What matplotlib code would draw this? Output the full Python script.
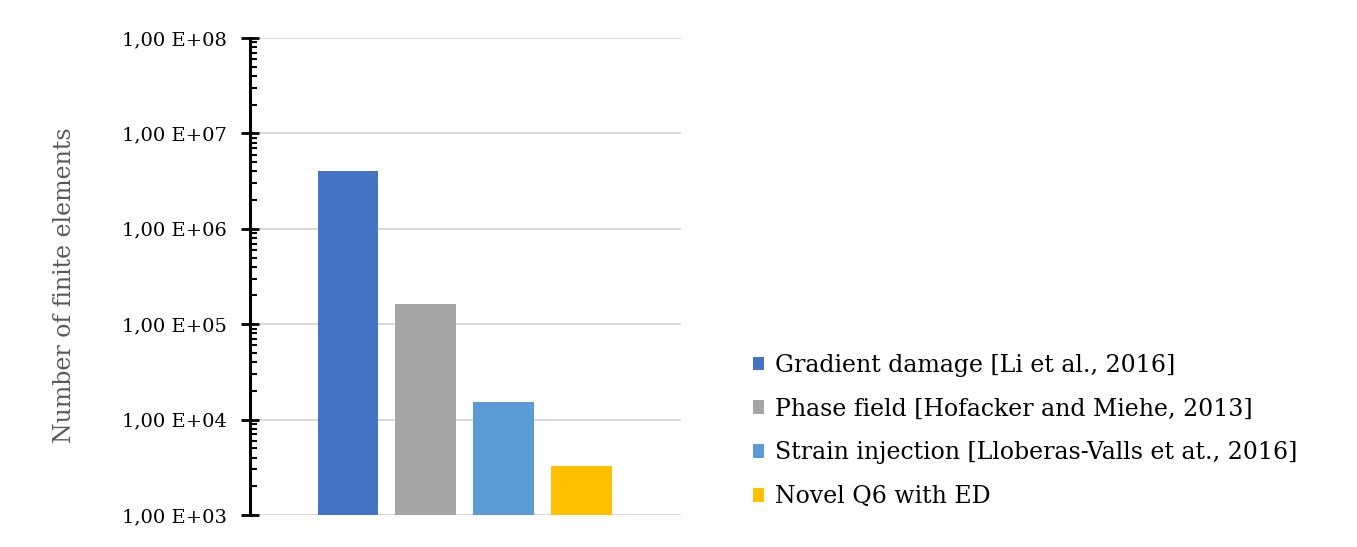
import math
import matplotlib
matplotlib.use("Agg")
import matplotlib.pyplot as plt
from matplotlib.ticker import LogLocator, FuncFormatter, NullFormatter

plt.rcParams['font.family'] = ['DejaVu Serif']

# Data
methods = [
    "Gradient damage [Li et al., 2016]",
    "Phase field [Hofacker and Miehe, 2013]",
    "Strain injection [Lloberas-Valls et at., 2016]",
    "Novel Q6 with ED",
]
elements = [4.0e6, 1.63e5, 1.52e4, 3.3e3]
colors = ["#4472c4", "#a5a5a5", "#5b9bd5", "#ffc000"]

fig = plt.figure(figsize=(13.57, 5.47), dpi=100)
ax = fig.add_axes([0.1842, 0.0585, 0.3176, 0.872])

for i, (lab, val, col) in enumerate(zip(methods, elements, colors)):
    ax.bar(i, val, width=0.78, color=col, label=lab, zorder=3)

ax.set_yscale("log")
ax.set_ylim(1e3, 1e8)
ax.set_xlim(-1.256, 4.27)
ax.set_xticks([])

ax.yaxis.set_major_locator(LogLocator(base=10, numticks=10))
ax.yaxis.set_minor_locator(LogLocator(base=10, subs=range(2, 10), numticks=10))
ax.yaxis.set_minor_formatter(NullFormatter())


def fmt(v, pos):
    return "1,00 E+%02d" % int(round(math.log10(v)))


ax.yaxis.set_major_formatter(FuncFormatter(fmt))
ax.tick_params(axis="y", which="major", direction="inout", length=13, width=2,
               labelsize=14, pad=10, colors="black")
ax.tick_params(axis="y", which="minor", direction="in", length=5, width=1.5)

for s in ["top", "right", "bottom"]:
    ax.spines[s].set_visible(False)
ax.spines["left"].set_linewidth(2.2)

ax.grid(axis="y", which="major", color="#d9d9d9", linewidth=1.5, zorder=0)
ax.set_axisbelow(True)

ax.set_ylabel("Number of finite elements", fontsize=17, color="#595959")
ax.yaxis.set_label_coords(-0.403, 0.482)

fig.legend(loc="upper left", bbox_to_anchor=(0.539, 0.392), frameon=False,
           fontsize=17, handlelength=0.5, handleheight=0.5, handletextpad=0.45,
           labelspacing=0.88)

fig.savefig("out.png", dpi=100)
